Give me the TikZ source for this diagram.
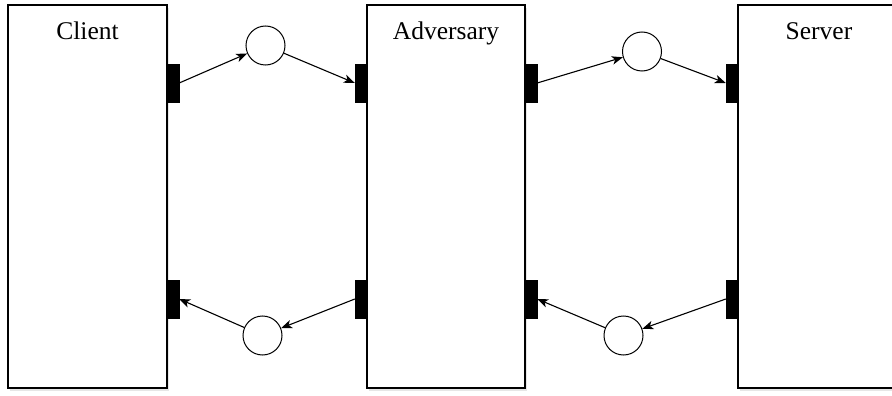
\documentclass[tikz,border=0pt]{standalone}
\usepackage{fontspec}
\setmainfont{Liberation Serif}
\usetikzlibrary{shapes,arrows.meta,calc,shadows}
\tikzset{party/.style={draw, rectangle, line width=1.6pt, fill=white, inner sep=0pt, minimum height=383.5pt, drop shadow={shadow xshift=2pt, shadow yshift=-3pt, opacity=0.2}}}
\tikzset{port/.style={draw, fill=black, rectangle, inner sep=0pt, minimum width=11pt, minimum height=38pt}}
\tikzset{place/.style={draw, circle, line width=1pt, fill=white, inner sep=0pt, minimum size=39pt}}
\tikzset{line/.style={draw, line width=1.1pt, -{Stealth[length=11pt, width=8.5pt, inset=3pt]}}}
\tikzset{title/.style={anchor=base, font=\fontsize{25.5}{30}\selectfont}}

\begin{document}
\begin{tikzpicture}[x=1pt, y=-1pt]
\clip (0,0) rectangle (892,396);

\node [party, minimum width=159pt] (client) at (87.5,196.5) {};
\node [party, minimum width=158pt] (adv) at (446,196.5) {};
\node [party, minimum width=162pt] (server) at (819,196.5) {};

\node [title] (clientname) at (client.north |- 0,40) {Client};
\node [title] (advname) at (adv.north |- 0,40) {Adversary};
\node [title] (servername) at (server.north |- 0,40) {Server};

\coordinate (top) at (0,83);
\coordinate (low) at (0,299);

%PORTS
\node [port, anchor=west] (cport1) at (client.east |- top) {};
\node [port, anchor=west] (cport2) at (client.east |- low) {};
\node [port, anchor=east] (aport1) at (adv.west |- top) {};
\node [port, anchor=east] (aport2) at (adv.west |- low) {};
\node [port, anchor=west] (aport3) at (adv.east |- top) {};
\node [port, anchor=west] (aport4) at (adv.east |- low) {};
\node [port, anchor=east] (sport1) at (server.west |- top) {};
\node [port, anchor=east] (sport2) at (server.west |- low) {};

%MESSAGES
\node [place] (msg1) at (265.5,45.5) {};
\node [place] (msg2) at (642,51.5) {};
\node [place] (msg3) at (262.5,335.5) {};
\node [place] (msg4) at (623.5,335.5) {};

%CLIENT TO SERVER
\path [line] (cport1.east) -- (msg1);
\path [line] (msg1) -- (aport1.west);
\path [line] (aport3.east) -- (msg2);
\path [line] (msg2) -- (sport1.west);

%SERVER TO CLIENT
\path [line] (sport2.west) -- (msg4);
\path [line] (msg4) -- (aport4.east);
\path [line] (aport2.west) -- (msg3);
\path [line] (msg3) -- (cport2.east);

\end{tikzpicture}
\end{document}
